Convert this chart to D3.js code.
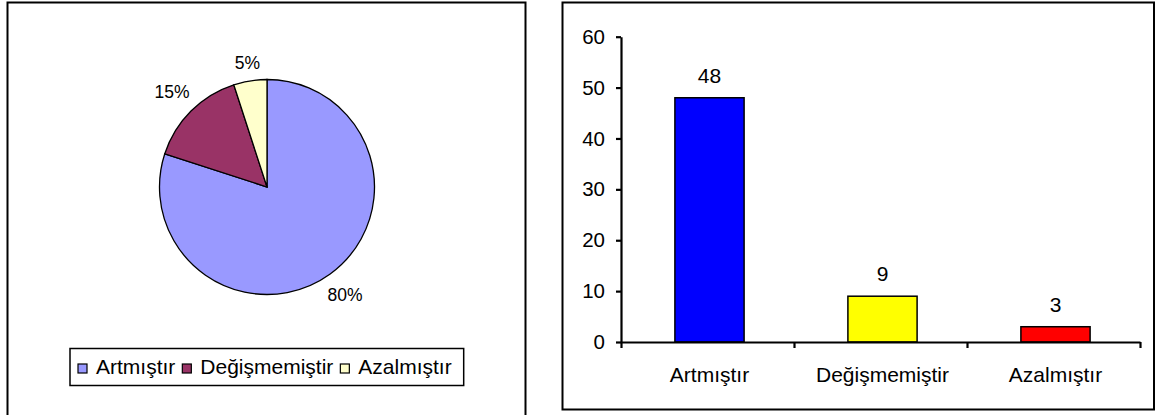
<!DOCTYPE html>
<html>
<head>
<meta charset="utf-8">
<script src="https://cdn.jsdelivr.net/npm/d3@7"></script>
<style>
  html, body { margin: 0; padding: 0; background: #fff; }
  svg { display: block; font-family: "Liberation Sans", Arial, sans-serif; }
</style>
</head>
<body>
<svg id="chart" width="1156" height="415"></svg>
<script>
// ---- data ----
const categories = ["Artmıştır", "Değişmemiştir", "Azalmıştır"];
const counts = [48, 9, 3];
const percentLabels = ["80%", "15%", "5%"];
const pieColors = ["#9999FF", "#993366", "#FFFFCC"];
const barColors = ["#0000FF", "#FFFF00", "#FF0000"];
const yTicks = [0, 10, 20, 30, 40, 50, 60];

const svg = d3.select("#chart");

// ---- panel frames ----
svg.append("rect").attr("x", 7.5).attr("y", 2.5).attr("width", 518).attr("height", 420)
  .attr("fill", "#fff").attr("stroke", "#000").attr("stroke-width", 2);
svg.append("rect").attr("x", 562.5).attr("y", 2.5).attr("width", 591.5).attr("height", 407)
  .attr("fill", "#fff").attr("stroke", "#000").attr("stroke-width", 2);

// ---- pie ----
const cx = 267, cy = 187, R = 107.5;
const pie = d3.pie().sort(null).value(d => d)(counts);
const arc = d3.arc().innerRadius(0).outerRadius(R);
const gp = svg.append("g").attr("transform", `translate(${cx},${cy})`);
gp.selectAll("path").data(pie).join("path")
  .attr("d", arc)
  .attr("fill", (d, i) => pieColors[i])
  .attr("stroke", "#000").attr("stroke-width", 1.3);

const pfs = 17.5;
const labels = gp.selectAll("text.pl").data(pie).join("text")
  .attr("class", "pl")
  .attr("font-size", pfs)
  .attr("text-anchor", "middle")
  .attr("fill", "#000")
  .text((d, i) => percentLabels[i]);
labels.each(function(d) {
  const w = this.getComputedTextLength();
  const h = 12.5;
  const a = (d.startAngle + d.endAngle) / 2;
  const sx = Math.sin(a), sy = -Math.cos(a);
  const ext = Math.abs(sx) * w / 2 + Math.abs(sy) * h / 2;
  const rr = R + 10 + ext;
  d3.select(this).attr("x", sx * rr).attr("y", sy * rr + 0.36 * pfs);
});

// ---- legend ----
const lg = svg.append("g");
const legBox = lg.append("rect").attr("x", 70).attr("y", 348.5).attr("height", 37)
  .attr("fill", "#fff").attr("stroke", "#000").attr("stroke-width", 1.5);
let lx = 78;
categories.forEach((c, i) => {
  lg.append("rect").attr("x", lx).attr("y", 364).attr("width", 9).attr("height", 9)
    .attr("fill", pieColors[i]).attr("stroke", "#000").attr("stroke-width", 1.2);
  const t = lg.append("text").attr("x", lx + 18).attr("y", 374)
    .attr("font-size", 21).attr("fill", "#000").text(c);
  const w = t.node().getComputedTextLength();
  lx = lx + 18 + w + 7;
});
legBox.attr("width", lx - 70 + 5);

// ---- bar chart ----
const x0 = 621, x1 = 1140, yBase = 342, yTop = 36.7;
const x = d3.scaleBand().domain(categories).range([x0, x1]).paddingInner(0).paddingOuter(0);
const xEdges = d3.scaleLinear().domain([0, categories.length]).range([x0, x1]);
const y = d3.scaleLinear().domain([0, 60]).range([yBase, yTop]);
const bw = x.bandwidth() * 0.4;

const gb = svg.append("g");
gb.selectAll("rect.bar").data(counts).join("rect")
  .attr("class", "bar")
  .attr("x", (d, i) => x(categories[i]) + x.bandwidth() / 2 - bw / 2 + 2)
  .attr("y", d => y(d))
  .attr("width", bw)
  .attr("height", d => y(0) - y(d))
  .attr("fill", (d, i) => barColors[i])
  .attr("stroke", "#000").attr("stroke-width", 1.5);

gb.selectAll("text.val").data(counts).join("text")
  .attr("class", "val")
  .attr("x", (d, i) => x(categories[i]) + x.bandwidth() / 2 + 2)
  .attr("y", d => y(d) - 15)
  .attr("text-anchor", "middle")
  .attr("font-size", 21)
  .attr("fill", "#000")
  .text(d => d);

// y axis
const yAxis = svg.append("g").attr("transform", `translate(${x0},0)`)
  .call(d3.axisLeft(y).tickValues(yTicks).tickSize(5).tickSizeOuter(0).tickPadding(11));
yAxis.select(".domain").attr("stroke", "#000").attr("stroke-width", 2.2);
yAxis.selectAll(".tick line").attr("stroke", "#000").attr("stroke-width", 2.2);
yAxis.selectAll(".tick text").attr("font-size", 20.5).attr("fill", "#000")
  .attr("font-family", "Liberation Sans, Arial, sans-serif");

// x axis: boundary ticks
const xTickAxis = svg.append("g").attr("transform", `translate(0,${yBase})`)
  .call(d3.axisBottom(xEdges).tickValues(d3.range(categories.length + 1)).tickSize(6).tickSizeOuter(0).tickFormat(""));
xTickAxis.select(".domain").attr("stroke", "#000").attr("stroke-width", 2.2);
xTickAxis.selectAll(".tick line").attr("stroke", "#000").attr("stroke-width", 2.2);

// x axis: category labels
const xLab = svg.append("g").attr("transform", `translate(2,${yBase})`)
  .call(d3.axisBottom(x).tickSize(0).tickPadding(25));
xLab.select(".domain").remove();
xLab.selectAll(".tick text").attr("font-size", 21).attr("fill", "#000")
  .attr("font-family", "Liberation Sans, Arial, sans-serif");
</script>
</body>
</html>
